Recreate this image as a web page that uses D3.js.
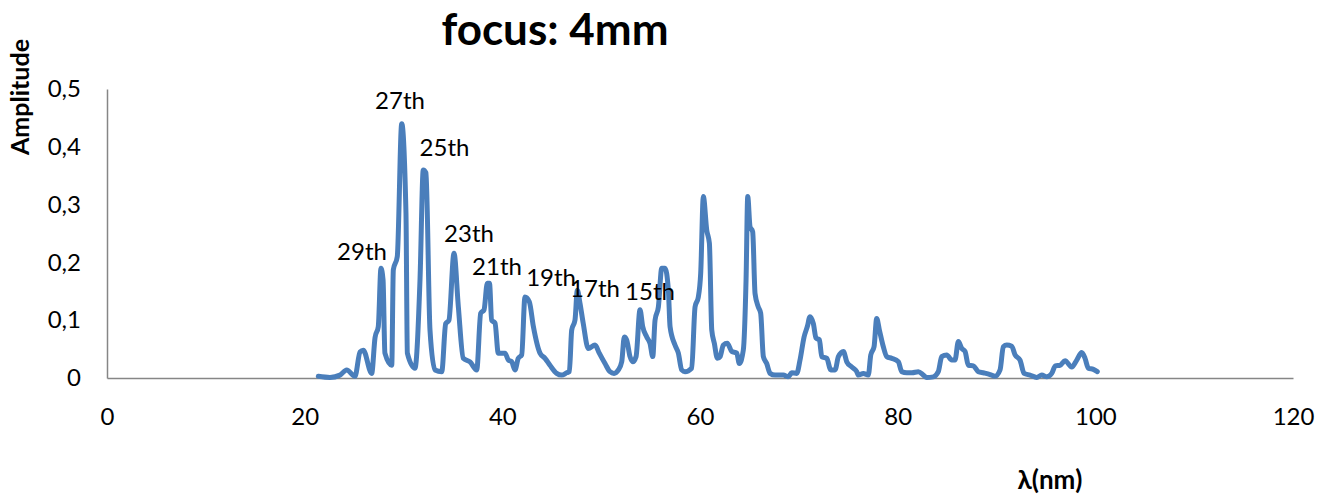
<!DOCTYPE html>
<html>
<head>
<meta charset="utf-8">
<script src="https://cdn.jsdelivr.net/npm/d3@7/dist/d3.min.js"></script>
<style>
  html, body { margin: 0; padding: 0; background: #fff; }
  svg { display: block; font-family: Lato, "Open Sans", sans-serif; }
</style>
</head>
<body>
<svg id="chart" width="1328" height="496"></svg>
<script>
// Spectrum: wavelength (nm) vs. amplitude
const wavelength = [
  21.38, 22.56, 23.57, 24.25, 25.09, 25.60, 25.93, 26.78, 27.12, 27.45,
  27.72, 27.93, 28.12, 28.81, 28.97, 29.37, 29.82, 30.25, 30.39, 31.16,
  31.67, 32.00, 32.27, 32.68, 33.19, 33.87, 34.27, 34.60, 35.11, 35.55,
  36.05, 36.73, 37.41, 37.81, 38.15, 38.48, 38.70, 38.92, 39.26, 39.59,
  40.27, 40.61, 40.95, 41.28, 41.61, 41.96, 42.29, 42.73, 43.14, 43.81,
  44.32, 44.82, 45.50, 46.01, 46.51, 46.78, 47.02, 47.35, 47.59, 47.86,
  48.19, 48.70, 49.38, 49.81, 50.39, 50.89, 51.30, 51.74, 52.08, 52.34,
  52.58, 52.92, 53.19, 53.53, 53.93, 54.20, 54.61, 54.94, 55.22, 55.45,
  55.79, 56.13, 56.46, 56.80, 56.97, 57.47, 57.81, 58.15, 58.48, 59.16,
  59.50, 59.83, 60.07, 60.34, 60.68, 60.95, 61.19, 61.45, 61.76, 62.03,
  62.36, 62.76, 63.21, 63.72, 63.98, 64.38, 64.66, 64.83, 65.06, 65.33,
  65.57, 65.90, 66.14, 66.41, 66.75, 67.09, 67.59, 68.43, 68.94, 69.28,
  69.79, 70.12, 70.53, 70.86, 71.13, 71.47, 71.74, 72.08, 72.32, 72.83,
  73.23, 73.67, 74.00, 74.51, 74.85, 75.36, 75.86, 76.02, 76.53, 77.03,
  77.28, 77.61, 77.88, 78.15, 78.55, 78.90, 79.40, 80.07, 80.41, 80.92,
  81.45, 82.09, 82.60, 82.94, 83.61, 84.11, 84.46, 84.96, 85.47, 85.80,
  86.14, 86.49, 86.82, 87.15, 87.66, 88.17, 88.67, 89.35, 89.85, 90.36,
  90.69, 91.04, 91.54, 91.88, 92.38, 92.79, 93.39, 94.07, 94.58, 95.08,
  95.59, 95.95, 96.43, 96.94, 97.61, 98.12, 98.62, 98.96, 99.29, 99.80,
  100.20
];
const amplitude = [
  0.003, 0.001, 0.005, 0.014, 0.003, 0.045, 0.048, 0.008, 0.070, 0.089,
  0.190, 0.170, 0.043, 0.022, 0.187, 0.210, 0.440, 0.285, 0.043, 0.017,
  0.170, 0.360, 0.355, 0.083, 0.014, 0.011, 0.094, 0.100, 0.216, 0.123,
  0.034, 0.028, 0.014, 0.112, 0.118, 0.164, 0.164, 0.100, 0.095, 0.043,
  0.043, 0.031, 0.028, 0.014, 0.034, 0.040, 0.140, 0.132, 0.089, 0.043,
  0.034, 0.022, 0.008, 0.005, 0.009, 0.011, 0.083, 0.100, 0.152, 0.129,
  0.094, 0.051, 0.057, 0.043, 0.025, 0.011, 0.008, 0.014, 0.028, 0.071,
  0.066, 0.037, 0.028, 0.037, 0.118, 0.089, 0.071, 0.060, 0.037, 0.100,
  0.123, 0.190, 0.190, 0.152, 0.089, 0.057, 0.043, 0.014, 0.011, 0.017,
  0.123, 0.140, 0.181, 0.314, 0.256, 0.233, 0.083, 0.060, 0.034, 0.037,
  0.057, 0.060, 0.046, 0.043, 0.025, 0.048, 0.170, 0.314, 0.262, 0.253,
  0.146, 0.123, 0.112, 0.037, 0.025, 0.008, 0.005, 0.005, 0.002, 0.009,
  0.008, 0.031, 0.071, 0.089, 0.106, 0.094, 0.069, 0.066, 0.037, 0.034,
  0.014, 0.014, 0.037, 0.046, 0.028, 0.019, 0.011, 0.005, 0.008, 0.005,
  0.040, 0.054, 0.103, 0.083, 0.054, 0.037, 0.034, 0.028, 0.011, 0.009,
  0.009, 0.011, 0.005, 0.001, 0.002, 0.011, 0.037, 0.040, 0.031, 0.031,
  0.063, 0.051, 0.046, 0.022, 0.021, 0.011, 0.009, 0.006, 0.003, 0.014,
  0.054, 0.057, 0.055, 0.040, 0.031, 0.008, 0.005, 0.001, 0.005, 0.002,
  0.008, 0.021, 0.022, 0.030, 0.019, 0.031, 0.044, 0.034, 0.017, 0.015,
  0.011
];

// Harmonic order annotations, placed in data coordinates
const harmonicNames = ["29th", "27th", "25th", "23th", "21th", "19th", "17th", "15th"];
const harmonicLabelX = [25.8, 29.65, 34.15, 36.63, 39.46, 44.93, 49.38, 54.94];
const harmonicLabelY = [0.221, 0.481, 0.401, 0.251, 0.194, 0.176, 0.157, 0.152];

const xTicks = [0, 20, 40, 60, 80, 100, 120];
const yTicks = [0, 0.1, 0.2, 0.3, 0.4, 0.5];

const chartTitle = "focus: 4mm";
const xTitle = "λ(nm)";
const yTitle = "Amplitude";

const svg = d3.select("#chart");
const plot = { left: 107, right: 1293, top: 89, bottom: 378 };

const x = d3.scaleLinear().domain([0, 120]).range([plot.left, plot.right]);
const y = d3.scaleLinear().domain([0, 0.5]).range([plot.bottom, plot.top]);

const commaFmt = d => String(d).replace(".", ",");

// Axes
const xAxis = svg.append("g")
  .attr("transform", `translate(0,${plot.bottom})`)
  .call(d3.axisBottom(x).tickValues(xTicks).tickSize(0).tickPadding(30).tickFormat(commaFmt));
const yAxis = svg.append("g")
  .attr("transform", `translate(${plot.left},0)`)
  .call(d3.axisLeft(y).tickValues(yTicks).tickSize(0).tickPadding(26).tickFormat(commaFmt));

[xAxis, yAxis].forEach(g => {
  g.select(".domain").attr("stroke", "#868686").attr("stroke-width", 1.5);
  g.selectAll("text")
    .attr("font-family", "Lato, sans-serif")
    .attr("font-size", 24)
    .attr("fill", "#000");
});

// Series line
const line = d3.line()
  .x((d, i) => x(wavelength[i]))
  .y(d => y(d))
  .curve(d3.curveMonotoneX);

svg.append("path")
  .datum(amplitude)
  .attr("d", line)
  .attr("fill", "none")
  .attr("stroke", "#4a7ebb")
  .attr("stroke-width", 5)
  .attr("stroke-linejoin", "round")
  .attr("stroke-linecap", "round");

// Harmonic labels
svg.append("g")
  .selectAll("text")
  .data(harmonicNames)
  .join("text")
  .attr("x", (d, i) => x(harmonicLabelX[i]))
  .attr("y", (d, i) => y(harmonicLabelY[i]))
  .attr("text-anchor", "middle")
  .attr("dominant-baseline", "central")
  .attr("font-size", 24)
  .attr("fill", "#000")
  .text(d => d);

// Titles
svg.append("text")
  .attr("x", 555).attr("y", 28)
  .attr("text-anchor", "middle")
  .attr("dominant-baseline", "central")
  .attr("font-size", 44)
  .attr("font-weight", "bold")
  .text(chartTitle);

svg.append("text")
  .attr("x", 1050).attr("y", 479)
  .attr("text-anchor", "middle")
  .attr("dominant-baseline", "central")
  .attr("font-size", 26)
  .attr("font-weight", "bold")
  .text(xTitle);

svg.append("text")
  .attr("transform", "translate(19,97) rotate(-90)")
  .attr("text-anchor", "middle")
  .attr("dominant-baseline", "central")
  .attr("font-size", 25)
  .attr("font-weight", "bold")
  .text(yTitle);
</script>
</body>
</html>
